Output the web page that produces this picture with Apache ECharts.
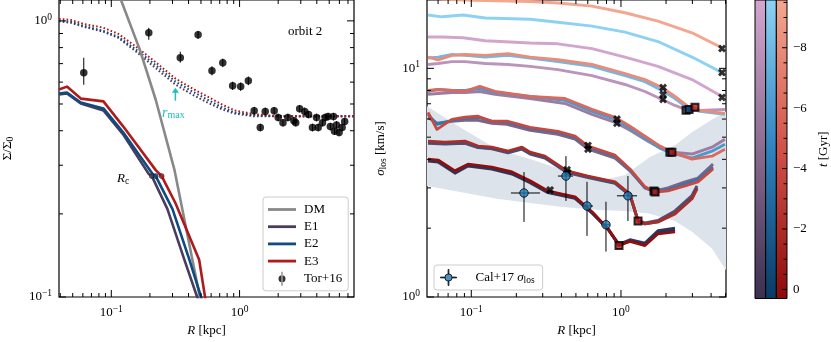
<!DOCTYPE html>
<html>
<head>
<meta charset="utf-8">
<script src="https://cdn.jsdelivr.net/npm/echarts@6.0.0/dist/echarts.min.js"></script>
<style>
html, body { margin: 0; padding: 0; background: #fff; }
#chart { width: 831px; height: 342px; }
</style>
</head>
<body>
<div id="chart"></div>
<script>
// ---------- left panel: surface density ----------
const dmR = [0.100, 0.119, 0.167, 0.222, 0.31, 0.49, 0.56];
const dmS = [1.6, 1.19, 0.785, 0.518, 0.29, 0.10, 0.075];

const e1R = [0.0391, 0.0451, 0.0578, 0.0868, 0.1236, 0.196, 0.207, 0.274, 0.371, 0.467, 0.505];
const e1S = [0.541, 0.546, 0.502, 0.474, 0.388, 0.279, 0.274, 0.208, 0.1365, 0.1, 0.09];
const e2R = [0.0391, 0.0451, 0.0578, 0.0868, 0.1236, 0.21, 0.222, 0.30, 0.406, 0.501, 0.538];
const e2S = [0.546, 0.55, 0.506, 0.482, 0.395, 0.279, 0.274, 0.208, 0.1365, 0.1, 0.09];
const e3R = [0.0391, 0.0451, 0.0578, 0.0868, 0.1236, 0.222, 0.247, 0.316, 0.484, 0.538, 0.557];
const e3S = [0.564, 0.578, 0.523, 0.511, 0.415, 0.288, 0.274, 0.219, 0.1365, 0.1, 0.09];

// dotted (initial) profiles
const dotR = [0.0391, 0.0484, 0.061, 0.0868, 0.113, 0.156, 0.21, 0.316, 0.428, 0.578, 0.728, 0.916, 1.30, 2.1, 3.58, 7.8];
const dotE1 = [0.996, 0.984, 0.952, 0.913, 0.869, 0.774, 0.689, 0.588, 0.541, 0.503, 0.478, 0.462, 0.451, 0.451, 0.451, 0.451];
const dotE2 = [1.0, 0.992, 0.959, 0.920, 0.876, 0.787, 0.706, 0.603, 0.555, 0.515, 0.486, 0.466, 0.455, 0.451, 0.451, 0.451];
const dotE3 = [1.017, 1.008, 0.975, 0.944, 0.898, 0.806, 0.723, 0.618, 0.569, 0.528, 0.498, 0.474, 0.459, 0.451, 0.451, 0.451];

const rcR = [0.207, 0.222, 0.247];
const rcS = [0.274, 0.274, 0.274];

// Tor+16
const torR = [0.061, 0.196, 0.345, 0.475, 0.609, 0.74, 0.883, 1.02, 1.17, 1.30, 1.45, 1.585, 1.86, 2.0, 2.18, 2.38, 2.65, 2.74, 2.94, 3.22, 3.45, 3.7, 3.98, 4.1, 4.43, 4.65, 4.9, 5.1, 5.4, 5.5, 5.7, 5.97, 6.3, 6.6];
const torS = [0.649, 0.905, 0.735, 0.89, 0.66, 0.705, 0.582, 0.578, 0.607, 0.473, 0.411, 0.47, 0.473, 0.447, 0.428, 0.447, 0.435, 0.428, 0.481, 0.47, 0.458, 0.411, 0.447, 0.411, 0.428, 0.447, 0.45, 0.414, 0.45, 0.398, 0.42, 0.394, 0.411, 0.432];
const torLo = [0.587, 0.854, 0.706, 0.86, 0.635, 0.68, 0.562, 0.558, 0.585, 0.458, 0.398, 0.455, 0.458, 0.433, 0.415, 0.433, 0.421, 0.415, 0.466, 0.455, 0.444, 0.398, 0.433, 0.398, 0.415, 0.433, 0.436, 0.401, 0.436, 0.386, 0.407, 0.382, 0.398, 0.418];
const torHi = [0.735, 0.944, 0.773, 0.92, 0.685, 0.73, 0.602, 0.598, 0.629, 0.488, 0.424, 0.485, 0.488, 0.461, 0.441, 0.461, 0.449, 0.441, 0.496, 0.485, 0.472, 0.424, 0.461, 0.424, 0.441, 0.461, 0.464, 0.427, 0.464, 0.41, 0.433, 0.406, 0.424, 0.446];

const rmaxR = 0.316, rmaxFrom = 0.514, rmaxTo = 0.573;

// ---------- right panel: velocity dispersion ----------
const levelT = [-9.5, -8, -6, -4, -2, 0];
const lvR = [
  [0.0514, 0.0637, 0.0881, 0.124, 0.247, 0.379, 0.64, 1.064, 1.766, 2.981, 4.73],
  [0.0514, 0.060, 0.0743, 0.0908, 0.124, 0.176, 0.247, 0.379, 0.64, 1.064, 1.446, 1.88, 2.295, 2.803, 3.37, 4.95],
  [0.0514, 0.060, 0.0743, 0.0908, 0.114, 0.144, 0.247, 0.423, 0.64, 0.912, 1.148, 1.515, 1.822, 2.192, 2.981, 4.055, 4.95],
  [0.0514, 0.059, 0.0743, 0.0908, 0.111, 0.137, 0.173, 0.247, 0.379, 0.493, 0.602, 0.912, 1.148, 1.446, 1.687, 2.061, 2.676, 3.266, 4.12],
  [0.0514, 0.0667, 0.0908, 0.111, 0.137, 0.176, 0.218, 0.247, 0.31, 0.436, 0.602, 0.912, 1.148, 1.3, 1.446, 1.766, 2.295, 2.981, 3.219],
  [0.0514, 0.060, 0.0778, 0.0951, 0.137, 0.187, 0.247, 0.325, 0.404, 0.493, 0.64, 0.819, 0.97, 1.148, 1.446, 1.766, 2.295]
];
const lvE1 = [
  [13.7, 13.7, 13.6, 13.2, 12.9, 12.8, 12.2, 11.2, 10.2, 8.93, 7.53],
  [10.4, 10.5, 10.7, 10.7, 10.5, 10.4, 10.2, 9.87, 9.29, 8.5, 7.92, 7.31, 6.88, 6.55, 6.55, 6.61],
  [7.69, 7.76, 7.84, 7.84, 7.92, 7.69, 7.38, 7.02, 6.29, 5.81, 5.36, 4.8, 4.48, 4.3, 4.22, 4.52, 4.9],
  [6.11, 5.75, 5.87, 5.92, 5.92, 5.75, 5.69, 5.36, 5.15, 4.9, 4.43, 4.05, 3.56, 3.0, 2.91, 3.0, 3.19, 3.31, 3.81],
  [4.7, 4.66, 4.7, 4.5, 4.45, 4.27, 4.43, 4.22, 4.05, 3.5, 3.33, 3.14, 2.78, 2.16, 2.11, 2.16, 2.38, 2.78, 3.06],
  [3.93, 3.89, 3.48, 3.74, 3.63, 3.45, 3.16, 2.86, 2.78, 2.7, 2.33, 1.98, 1.7, 1.78, 1.72, 1.95, 2.0]
];
const lvE2 = [
  [17.1, 16.8, 17.1, 16.6, 16.4, 15.9, 15.3, 14.4, 13.1, 11.2, 9.58],
  [11.1, 11.2, 11.5, 11.4, 11.2, 11.4, 11.1, 10.7, 10.2, 9.29, 8.75, 8.0, 7.38, 6.68, 6.48, 6.29],
  [7.92, 8.08, 8.0, 8.0, 8.16, 7.84, 7.53, 7.24, 6.48, 5.98, 5.47, 4.85, 4.48, 4.26, 4.05, 4.34, 4.66],
  [6.29, 5.69, 5.92, 6.04, 6.11, 5.87, 5.81, 5.47, 5.25, 4.99, 4.52, 4.13, 3.59, 3.0, 2.88, 2.94, 3.12, 3.25, 3.7],
  [4.75, 4.7, 4.75, 4.52, 4.48, 4.3, 4.48, 4.26, 4.1, 3.54, 3.35, 3.16, 2.8, 2.15, 2.09, 2.13, 2.33, 2.72, 3.0],
  [3.97, 3.93, 3.52, 3.78, 3.66, 3.48, 3.19, 2.88, 2.8, 2.72, 2.34, 1.98, 1.69, 1.76, 1.7, 1.92, 1.97]
];
const lvE3 = [
  [20.3, 20.1, 19.9, 19.8, 19.6, 19.3, 18.7, 17.5, 16.1, 14.3, 12.3],
  [11.2, 10.9, 11.4, 11.5, 11.4, 11.6, 11.2, 10.9, 10.4, 9.48, 8.93, 8.24, 7.53, 6.82, 6.55, 6.35],
  [8.0, 8.08, 8.0, 7.92, 8.33, 7.92, 7.53, 7.38, 6.61, 6.11, 5.58, 4.95, 4.57, 4.3, 4.01, 4.13, 4.43],
  [6.42, 5.41, 5.98, 6.11, 6.17, 5.87, 5.87, 5.52, 5.3, 5.05, 4.57, 4.17, 3.63, 3.03, 2.88, 2.91, 3.06, 3.19, 3.63],
  [4.8, 4.75, 4.8, 4.57, 4.52, 4.34, 4.52, 4.3, 4.13, 3.56, 3.38, 3.19, 2.82, 2.15, 2.09, 2.13, 2.31, 2.69, 2.97],
  [4.01, 3.97, 3.56, 3.81, 3.7, 3.52, 3.22, 2.91, 2.82, 2.74, 2.36, 1.99, 1.68, 1.75, 1.68, 1.89, 1.93]
];

// markers on the profiles
const xmR = [4.73, 4.73, 4.73, 1.91, 1.91, 1.91, 0.94, 0.94, 0.602, 0.602, 0.436, 0.44, 0.336];
const xmS = [12.2, 9.58, 7.46, 8.24, 7.69, 7.31, 6.0, 5.75, 4.6, 4.43, 3.6, 3.5, 2.94];
const sqR = [2.72, 2.85, 3.12, 2.12, 2.19, 1.66, 1.69, 1.30, 0.97];
const sqS = [6.55, 6.61, 6.75, 4.3, 4.3, 2.91, 2.88, 2.15, 1.68];
const sqModel = [0, 1, 2, 1, 2, 1, 2, 2, 2];

// observed band
const bandR = [0.0506, 0.0841, 0.1485, 0.247, 0.392, 0.724, 1.064, 1.562, 2.295, 2.981, 4.055, 5.03];
const bandHi = [6.82, 5.52, 4.43, 4.01, 3.63, 3.22, 3.42, 4.09, 4.61, 5.25, 5.98, 6.48];
const bandLo = [3.06, 2.88, 2.69, 2.58, 2.48, 2.4, 2.38, 2.31, 2.15, 1.93, 1.63, 1.31];

// Cal+17
const calR = [0.225, 0.429, 0.593, 0.794, 1.113];
const calS = [2.85, 3.38, 2.5, 2.07, 2.77];
const calRlo = [0.184, 0.379, 0.557, 0.758, 0.94];
const calRhi = [0.288, 0.478, 0.65, 0.844, 1.28];
const calSlo = [2.13, 2.63, 1.85, 1.58, 2.15];
const calShi = [3.52, 4.13, 3.19, 2.61, 3.38];

// colour bar
const cbT = [-9.58, 0.3];
const cbMajor = [-8, -6, -4, -2, 0];
const cbMinor = [-9.5, -9, -8.5, -7.5, -7, -6.5, -5.5, -5, -4.5, -3.5, -3, -2.5, -1.5, -1, -0.5];
const cmapStops = [
  ['#d3a6cf', '#8a6b90', '#3b2f4f'],
  ['#8fd3f3', '#2f83bf', '#0a3b64'],
  ['#f3a892', '#d0524a', '#8d0a0a']
];
const modelColor = ['#4a3c5f', '#0e4b80', '#b01a1a'];

// tick positions
const lxMajor = [0.1, 1], lxMinor = [0.04, 0.05, 0.06, 0.07, 0.08, 0.09, 0.2, 0.3, 0.4, 0.5, 0.6, 0.7, 0.8, 0.9, 2, 3, 4, 5, 6, 7];
const lyMajor = [0.1, 1], lyMinor = [0.2, 0.3, 0.4, 0.5, 0.6, 0.7, 0.8, 0.9];
const rxMajor = [0.1, 1], rxMinor = [0.06, 0.07, 0.08, 0.09, 0.2, 0.3, 0.4, 0.5, 0.6, 0.7, 0.8, 0.9, 2, 3, 4, 5];
const ryMajor = [1, 10], ryMinor = [2, 3, 4, 5, 6, 7, 8, 9];

const FONT = '"Liberation Serif", "DejaVu Serif", serif';
const FS = 13;

function hex2rgb(h) { return [1, 3, 5].map(i => parseInt(h.substr(i, 2), 16)); }
function mix(a, b, u) {
  const p = hex2rgb(a), q = hex2rgb(b);
  return 'rgb(' + p.map((v, i) => Math.round(v + (q[i] - v) * u)).join(',') + ')';
}
function cmap(m, t) {
  const f = (t - cbT[0]) / (cbT[1] - cbT[0]);
  const s = cmapStops[m];
  return f < 0.5 ? mix(s[0], s[1], f / 0.5) : mix(s[1], s[2], (f - 0.5) / 0.5);
}
function xy(xs, ys) { return xs.map((x, i) => [x, ys[i]]); }

function supLabel(v) {
  const e = Math.round(Math.log10(v));
  return '{b|10}{s|' + (e < 0 ? '\u2212' + (-e) : e) + '}';
}
const supRich = {
  b: { fontFamily: FONT, fontSize: FS, color: '#000' },
  s: { fontFamily: FONT, fontSize: 9.5, color: '#000', padding: [0, 0, 7, 0] }
};
const nameStyle = {
  fontFamily: FONT, fontSize: FS, color: '#000',
  rich: {
    i: { fontFamily: FONT, fontSize: FS, fontStyle: 'italic', color: '#000' },
    n: { fontFamily: FONT, fontSize: FS, color: '#000' },
    s: { fontFamily: FONT, fontSize: 9.5, color: '#000', padding: [5, 0, 0, 0] }
  }
};

function tickData(xMaj, xMin, yMaj, yMin, xRef, yRef) {
  const out = [];
  [0, 1].forEach(side => {
    xMaj.forEach(v => out.push([v, yRef, side, 7]));
    xMin.forEach(v => out.push([v, yRef, side, 4]));
  });
  [2, 3].forEach(side => {
    yMaj.forEach(v => out.push([xRef, v, side, 7]));
    yMin.forEach(v => out.push([xRef, v, side, 4]));
  });
  return out;
}
function drawTick(params, api) {
  const side = api.value(2), len = api.value(3);
  const p = api.coord([api.value(0), api.value(1)]);
  const cs = params.coordSys;
  let shape;
  if (side === 0) shape = { x1: p[0], y1: cs.y + cs.height, x2: p[0], y2: cs.y + cs.height - len };
  else if (side === 1) shape = { x1: p[0], y1: cs.y, x2: p[0], y2: cs.y + len };
  else if (side === 2) shape = { x1: cs.x, y1: p[1], x2: cs.x + len, y2: p[1] };
  else shape = { x1: cs.x + cs.width, y1: p[1], x2: cs.x + cs.width - len, y2: p[1] };
  return { type: 'line', shape: shape, style: { stroke: '#000', lineWidth: 1 } };
}
function tickSeries(g, data) {
  return { type: 'custom', xAxisIndex: g, yAxisIndex: g, data: data, renderItem: drawTick, silent: true, animation: false, z: 8 };
}

function lineSeries(g, name, xs, ys, color, width, dash, z) {
  return {
    type: 'line', name: name, xAxisIndex: g, yAxisIndex: g, data: xy(xs, ys),
    symbol: 'none', showSymbol: false, animation: false, silent: true, z: z || 2,
    lineStyle: { color: color, width: width, type: dash || 'solid', join: 'round' },
    itemStyle: { color: color }
  };
}

function drawVErr(params, api) {
  const a = api.coord([api.value(0), api.value(2)]);
  const b = api.coord([api.value(0), api.value(3)]);
  return { type: 'line', shape: { x1: a[0], y1: a[1], x2: b[0], y2: b[1] }, style: { stroke: '#000', lineWidth: 1 } };
}
function drawXYErr(params, api) {
  const x = api.value(0), y = api.value(1);
  const a = api.coord([x, api.value(4)]), b = api.coord([x, api.value(5)]);
  const c = api.coord([api.value(2), y]), d = api.coord([api.value(3), y]);
  return { type: 'group', children: [
    { type: 'line', shape: { x1: a[0], y1: a[1], x2: b[0], y2: b[1] }, style: { stroke: '#000', lineWidth: 1 } },
    { type: 'line', shape: { x1: c[0], y1: c[1], x2: d[0], y2: d[1] }, style: { stroke: '#000', lineWidth: 1 } }
  ] };
}
function drawArrow(params, api) {
  const a = api.coord([api.value(0), api.value(1)]);
  const b = api.coord([api.value(0), api.value(2)]);
  const c = '#1dbfbf';
  return { type: 'group', children: [
    { type: 'line', shape: { x1: a[0], y1: a[1], x2: b[0], y2: b[1] + 3 }, style: { stroke: c, lineWidth: 1.5 } },
    { type: 'polygon', shape: { points: [[b[0], b[1]], [b[0] - 3.5, b[1] + 5], [b[0] + 3.5, b[1] + 5]] }, style: { fill: c } }
  ] };
}
function drawBand(params, api) {
  const up = bandR.map((r, i) => api.coord([r, bandHi[i]]));
  const lo = bandR.map((r, i) => api.coord([r, bandLo[i]])).reverse();
  return { type: 'polygon', shape: { points: up.concat(lo) }, style: { fill: '#dde3ea' } };
}
function drawColorbar(params, api) {
  const i = api.value(0);
  const p0 = api.coord([i, cbT[0]]), p1 = api.coord([i + 1, cbT[1]]);
  const s = cmapStops[i];
  return {
    type: 'rect',
    shape: { x: p0[0], y: Math.min(p0[1], p1[1]), width: p1[0] - p0[0], height: Math.abs(p1[1] - p0[1]) },
    style: {
      fill: new echarts.graphic.LinearGradient(0, 0, 0, 1, [
        { offset: 0, color: s[0] }, { offset: 0.5, color: s[1] }, { offset: 1, color: s[2] }
      ]),
      stroke: '#000', lineWidth: 1
    }
  };
}

const XPATH = 'path://M0,2.6L2.6,0L5,2.4L7.4,0L10,2.6L7.6,5L10,7.4L7.4,10L5,7.6L2.6,10L0,7.4L2.4,5Z';
const LINE_ICON = 'path://M0,0H28V2.8H0Z';
const TOR_ICON = 'path://M3.1,0H3.9V14H3.1Z M0,7A3.5,3.5 0 1,0 7,7A3.5,3.5 0 1,0 0,7Z';
const CAL_ICON = 'path://M0,7.6H4.4V8.4H0Z M11.6,7.6H16V8.4H11.6Z M7.6,0H8.4V4.4H7.6Z M7.6,11.6H8.4V16H7.6Z M4.4,8A3.6,3.6 0 1,0 11.6,8A3.6,3.6 0 1,0 4.4,8Z';

const series = [];
// ---- left panel
series.push(tickSeries(0, tickData(lxMajor, lxMinor, lyMajor, lyMinor, 1, 0.5)));
series.push(lineSeries(0, 'E1 init', dotR, dotE1, modelColor[0], 2, [1.6, 2.2], 2));
series.push(lineSeries(0, 'E2 init', dotR, dotE2, modelColor[1], 2, [1.6, 2.2], 2));
series.push(lineSeries(0, 'E3 init', dotR, dotE3, modelColor[2], 2, [1.6, 2.2], 2));
series.push(lineSeries(0, 'DM', dmR, dmS, '#888888', 2.6, null, 3));
series.push(lineSeries(0, 'E1', e1R, e1S, modelColor[0], 2.6, null, 3));
series.push(lineSeries(0, 'E2', e2R, e2S, modelColor[1], 2.6, null, 3));
series.push(lineSeries(0, 'E3', e3R, e3S, modelColor[2], 2.6, null, 3));
series.push({
  type: 'scatter', name: 'Rc', xAxisIndex: 0, yAxisIndex: 0, animation: false, silent: true, z: 4,
  symbolSize: 5,
  data: rcR.map((r, i) => ({ value: [r, rcS[i]], itemStyle: { color: modelColor[i], borderColor: '#000', borderWidth: 0.5 } }))
});
series.push({
  type: 'custom', xAxisIndex: 0, yAxisIndex: 0, renderItem: drawVErr, silent: true, animation: false, z: 4,
  data: torR.map((r, i) => [r, torS[i], torLo[i], torHi[i]])
});
series.push({
  type: 'scatter', name: 'Tor+16', xAxisIndex: 0, yAxisIndex: 0, animation: false, silent: true, z: 5,
  symbolSize: 7.5, itemStyle: { color: '#000' }, data: xy(torR, torS)
});
series.push({
  type: 'custom', xAxisIndex: 0, yAxisIndex: 0, renderItem: drawArrow, silent: true, animation: false, z: 5,
  data: [[rmaxR, rmaxFrom, rmaxTo]]
});

// ---- right panel
series.push({
  type: 'custom', xAxisIndex: 1, yAxisIndex: 1, renderItem: drawBand, silent: true, animation: false, z: 1,
  data: [[bandR[0], bandLo[0]]]
});
series.push(tickSeries(1, tickData(rxMajor, rxMinor, ryMajor, ryMinor, 1, 5)));
levelT.forEach((t, k) => {
  [lvE1, lvE2, lvE3].forEach((arr, m) => {
    series.push(lineSeries(1, 'L' + k + 'E' + (m + 1), lvR[k], arr[k], cmap(m, t), 2.9, null, 2));
  });
});
series.push({
  type: 'scatter', xAxisIndex: 1, yAxisIndex: 1, animation: false, silent: true, z: 4,
  symbol: XPATH, symbolSize: 8, itemStyle: { color: '#000' }, data: xy(xmR, xmS)
});
series.push({
  type: 'scatter', xAxisIndex: 1, yAxisIndex: 1, animation: false, silent: true, z: 4,
  symbol: 'rect', symbolSize: 7,
  data: sqR.map((r, i) => ({ value: [r, sqS[i]], itemStyle: { color: modelColor[sqModel[i]], borderColor: '#000', borderWidth: 2 } }))
});
series.push({
  type: 'custom', xAxisIndex: 1, yAxisIndex: 1, renderItem: drawXYErr, silent: true, animation: false, z: 5,
  data: calR.map((r, i) => [r, calS[i], calRlo[i], calRhi[i], calSlo[i], calShi[i]])
});
series.push({
  type: 'scatter', name: 'Cal+17', xAxisIndex: 1, yAxisIndex: 1, animation: false, silent: true, z: 6,
  symbolSize: 8.5, itemStyle: { color: '#1f77b4', borderColor: '#000', borderWidth: 1 }, data: xy(calR, calS)
});

// ---- colour bar
series.push({
  type: 'custom', xAxisIndex: 2, yAxisIndex: 2, renderItem: drawColorbar, silent: true, animation: false, z: 2,
  data: [[0, -5], [1, -5], [2, -5]]
});
series.push({
  type: 'custom', xAxisIndex: 2, yAxisIndex: 2, renderItem: drawTick, silent: true, animation: false, z: 3,
  data: cbMajor.map(v => [1.5, v, 3, 5]).concat(cbMinor.map(v => [1.5, v, 3, 3.5]))
});

function logX(g, min, max, name) {
  return {
    type: 'log', gridIndex: g, min: min, max: max, logBase: 10,
    axisLine: { show: false }, axisTick: { show: false }, splitLine: { show: false }, minorTick: { show: false },
    axisLabel: { customValues: [0.1, 1], formatter: supLabel, rich: supRich, margin: 7, color: '#000' },
    name: name, nameLocation: 'middle', nameGap: 27, nameTextStyle: nameStyle
  };
}
function logY(g, min, max, major, name, gap) {
  return {
    type: 'log', gridIndex: g, min: min, max: max, logBase: 10,
    axisLine: { show: false }, axisTick: { show: false }, splitLine: { show: false },
    axisLabel: { customValues: major, formatter: supLabel, rich: supRich, margin: 7, color: '#000' },
    name: name, nameLocation: 'middle', nameGap: gap, nameRotate: 90, nameTextStyle: nameStyle
  };
}

const option = {
  backgroundColor: '#fff',
  animation: false,
  textStyle: { fontFamily: FONT },
  grid: [
    { left: 55, top: 0, width: 299, height: 298.5, show: true, borderColor: '#000', borderWidth: 1.2, backgroundColor: 'transparent' },
    { left: 427, top: 0, width: 299, height: 298.5, show: true, borderColor: '#000', borderWidth: 1.2, backgroundColor: 'transparent' },
    { left: 755, top: 0, width: 32, height: 298.5, show: false }
  ],
  xAxis: [
    logX(0, 0.0391, 7.8, '{i|R} [kpc]'),
    logX(1, 0.0506, 5.03, '{i|R} [kpc]'),
    { type: 'value', gridIndex: 2, min: 0, max: 3, show: false }
  ],
  yAxis: [
    logY(0, 0.1, 1.19, [0.1, 1], '{n|\u03a3/\u03a3}{s|0}', 44),
    logY(1, 1, 19.9, [1, 10], '{i|\u03c3}{s|los} [km/s]', 39),
    {
      type: 'value', gridIndex: 2, min: cbT[0], max: cbT[1], inverse: true, position: 'right',
      axisLine: { show: false }, axisTick: { show: false }, splitLine: { show: false },
      axisLabel: { customValues: cbMajor, formatter: v => String(v).replace('-', '\u2212'), margin: 6, color: '#000', fontFamily: FONT, fontSize: FS },
      name: '{i|t} [Gyr]', nameLocation: 'middle', nameGap: 30, nameRotate: 90, nameTextStyle: nameStyle
    }
  ],
  legend: [
    {
      data: [
        { name: 'DM', icon: LINE_ICON, itemStyle: { borderWidth: 0 } },
        { name: 'E1', icon: LINE_ICON, itemStyle: { borderWidth: 0 } },
        { name: 'E2', icon: LINE_ICON, itemStyle: { borderWidth: 0 } },
        { name: 'E3', icon: LINE_ICON, itemStyle: { borderWidth: 0 } },
        { name: 'Tor+16', icon: TOR_ICON, itemStyle: { borderWidth: 0 } }
      ],
      orient: 'vertical', left: 263, top: 197, itemWidth: 28, itemHeight: 14, itemGap: 4.2,
      backgroundColor: 'rgba(255,255,255,0.85)', borderColor: '#cccccc', borderWidth: 1, borderRadius: 3,
      padding: [6, 6, 5, 5], selectedMode: false,
      textStyle: { fontFamily: FONT, fontSize: FS, color: '#000', padding: [0, 0, 0, 3] }
    },
    {
      data: [{ name: 'Cal+17', icon: CAL_ICON, itemStyle: { color: '#1f77b4', borderColor: '#000', borderWidth: 1 } }],
      left: 434, top: 265, itemWidth: 28, itemHeight: 16,
      backgroundColor: 'rgba(255,255,255,0.85)', borderColor: '#cccccc', borderWidth: 1, borderRadius: 3,
      padding: [4, 8, 4, 6], selectedMode: false,
      formatter: () => 'Cal+17 {i|\u03c3}{s|los}',
      textStyle: {
        fontFamily: FONT, fontSize: FS, color: '#000', padding: [0, 0, 0, 8],
        rich: {
          i: { fontFamily: FONT, fontSize: FS, fontStyle: 'italic', color: '#000' },
          s: { fontFamily: FONT, fontSize: 9.5, color: '#000', padding: [5, 0, 0, 0] }
        }
      }
    }
  ],
  graphic: [
    { type: 'text', left: 288, top: 25, silent: true, style: { text: 'orbit 2', font: FS + 'px ' + FONT, fill: '#000' } },
    {
      type: 'text', left: 117, top: 172, silent: true,
      style: { text: '{i|R}{s|c}', rich: nameStyle.rich, font: FS + 'px ' + FONT, fill: '#000' }
    },
    {
      type: 'text', left: 162, top: 106, silent: true,
      style: {
        text: '{i|r}{s|max}', font: FS + 'px ' + FONT, fill: '#1dbfbf',
        rich: {
          i: { fontFamily: FONT, fontSize: 14, fontStyle: 'italic', color: '#1dbfbf' },
          s: { fontFamily: FONT, fontSize: 10, color: '#1dbfbf', padding: [5, 0, 0, 0] }
        }
      }
    }
  ],
  series: series
};

const chart = echarts.init(document.getElementById('chart'), null, { renderer: 'canvas' });
chart.setOption(option);
</script>
</body>
</html>
